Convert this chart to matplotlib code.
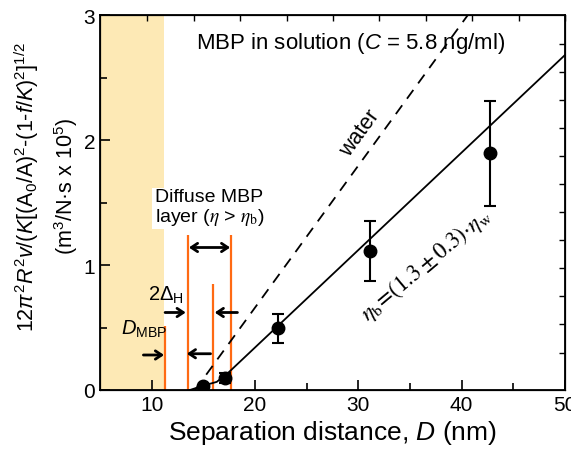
import matplotlib
matplotlib.use("Agg")
import matplotlib.pyplot as plt
import numpy as np

plt.rcParams['font.family'] = ['Liberation Sans', 'DejaVu Sans']
plt.rcParams['mathtext.fontset'] = 'custom'
plt.rcParams['mathtext.rm'] = 'Liberation Sans'
plt.rcParams['mathtext.it'] = 'Liberation Sans:italic'
plt.rcParams['mathtext.bf'] = 'Liberation Sans:bold'

# measured points (separation distance nm, value, error)
sep_d = [15.0, 17.1, 22.2, 31.1, 42.7]
val = [0.035, 0.095, 0.50, 1.11, 1.90]
err_lo = [0.0, 0.04, 0.12, 0.24, 0.43]
err_hi = [0.0, 0.04, 0.11, 0.24, 0.41]

# fit curve (eta_b) and water reference line
fit_d = [13.7, 15.0, 16.3, 17.5, 50.0]
fit_v = [0.0, 0.035, 0.065, 0.145, 2.68]
water_d = [14.2, 40.6]
water_v = [0.0, 3.0]

# orange markers: D_MBP, 2*delta_H lines, diffuse layer
orange_x = [11.3, 13.5, 15.9, 17.7]
orange_top = [0.51, 1.24, 0.85, 1.24]
shade_x = [5.0, 11.2]

fig = plt.figure(figsize=(5.71, 4.56), dpi=100)
ax = fig.add_axes([100/571, 65/456, 465/571, 375/456])

ax.axvspan(shade_x[0], shade_x[1], color='#FDE9B5', lw=0, zorder=0)
ax.vlines(orange_x, 0, orange_top, color='#FF6A13', lw=1.6, zorder=2)

ax.plot(water_d, water_v, color='black', lw=1.3, ls=(0, (6, 4.5)), zorder=3)
ax.plot(fit_d, fit_v, color='black', lw=1.3, zorder=3)
ax.errorbar(sep_d, val, yerr=[err_lo, err_hi], fmt='o', color='black',
            ms=9, lw=1.5, capsize=4.5, capthick=1.5, zorder=4)

# arrows
ap = dict(arrowstyle='->,head_length=0.45,head_width=0.3', lw=2, color='black',
          shrinkA=0, shrinkB=0)
ax.annotate('', xy=(11.2, 0.28), xytext=(9.2, 0.28), arrowprops=ap)
ax.annotate('', xy=(13.4, 0.29), xytext=(15.7, 0.29), arrowprops=ap)
ax.annotate('', xy=(13.3, 0.62), xytext=(11.3, 0.62), arrowprops=ap)
ax.annotate('', xy=(16.1, 0.62), xytext=(18.3, 0.62), arrowprops=ap)
ap2 = dict(ap)
ap2['arrowstyle'] = '<->,head_length=0.45,head_width=0.3'
ax.annotate('', xy=(13.6, 1.14), xytext=(17.6, 1.14), arrowprops=ap2)

# texts
ax.text(7.0, 0.45, r'$D_\mathrm{MBP}$', fontsize=14.5, ha='left', va='baseline')
ax.text(9.65, 0.72, r'2$\mathit{\Delta}_\mathrm{H}$', fontsize=14.5,
        ha='left', va='baseline')
ax.text(10.3, 1.46, 'Diffuse MBP\nlayer ($\\eta$ > $\\eta_\\mathrm{b}$)', fontsize=14,
        ha='left', va='center', linespacing=1.0, math_fontfamily='stix',
        bbox=dict(facecolor='white', edgecolor='none', pad=2), zorder=5)
ax.text(29.2, 2.78, r'MBP in solution ($C$ = 5.8 ng/ml)', fontsize=16,
        ha='center', va='center')
ax.text(30.2, 2.06, 'water', fontsize=15.5, rotation=54,
        ha='center', va='center',
        bbox=dict(facecolor='white', edgecolor='none', pad=0.5), zorder=5)
ax.text(36.6, 1.01, r'$\eta_\mathrm{b}\!=\!(1.3 \pm 0.3)\!\cdot\!\eta_\mathrm{w}$',
        fontsize=16.5, rotation=40, ha='center', va='center',
        math_fontfamily='stix')

ax.set_xlim(5, 50)
ax.set_ylim(0, 3)
ax.set_xticks([10, 20, 30, 40, 50])
ax.set_xticks([15, 25, 35, 45], minor=True)
ax.set_yticks([0, 1, 2, 3])
ax.set_yticks([0.5, 1.5, 2.5], minor=True)
ax.tick_params(which='both', direction='in', labelsize=15, width=1.2,
               top=False, right=False)
ax.tick_params(which='major', length=7)
ax.tick_params(which='minor', length=5)
for s in ax.spines.values():
    s.set_linewidth(1.3)

# extra tick scales on top and right spines
axt = ax.twiny()
axt.set_xlim(5, 50)
axt.set_xticks(np.arange(9.6, 50.5, 4.5))
axt.tick_params(direction='in', length=4, width=1, labeltop=False)
axr = ax.twinx()
axr.set_ylim(0, 3)
axr.set_yticks(np.arange(0.30, 2.8, 0.2247))
axr.tick_params(direction='in', length=4, width=1, labelright=False)

ax.set_xlabel(r'Separation distance, $D$ (nm)', fontsize=19, labelpad=3)
fig.text(27/571, 1 - 187/456,
         r'12$\pi^2R^2v/(K[(\mathrm{A}_0/\mathrm{A})^2$-$(1$-$f/K)^2]^{1/2}$',
         rotation=90, fontsize=15.5, ha='center', va='center')
fig.text(66/571, 1 - 186/456, r'(m$^3$/N·s x 10$^5$)',
         rotation=90, fontsize=15.5, ha='center', va='center')

fig.savefig('out.png', dpi=100)
